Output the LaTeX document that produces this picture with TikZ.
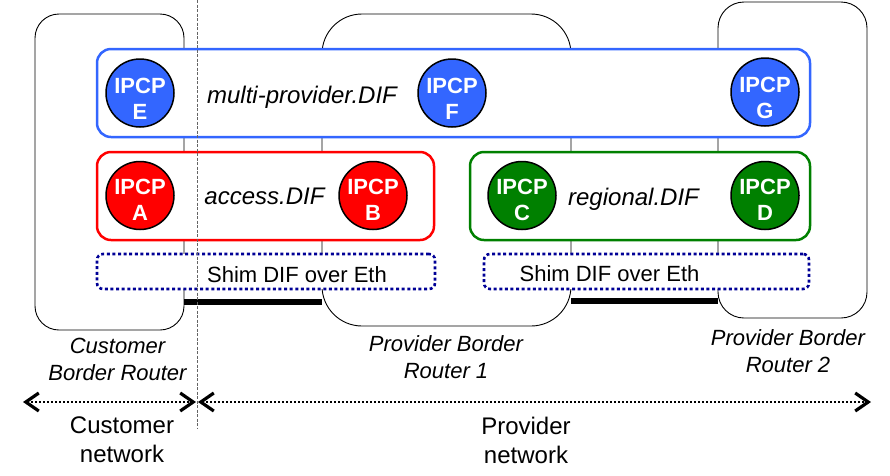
\documentclass[tikz,border=0pt]{standalone}
\usepackage{fontspec}
\setmainfont{Liberation Sans}
\usetikzlibrary{arrows.meta}
\definecolor{difblue}{RGB}{51,102,255}
\definecolor{difred}{RGB}{255,0,0}
\definecolor{difgreen}{RGB}{0,128,0}
\definecolor{shimnavy}{RGB}{0,0,150}
\definecolor{divgray}{RGB}{100,100,100}
\begin{document}
\begin{tikzpicture}[x=1pt,y=-1pt,
  router/.style={draw=black, line width=0.9pt, rectangle, inner sep=0pt},
  difbox/.style={draw, fill=white, line width=2.5pt, rounded corners=14pt, inner sep=0pt, rectangle},
  shimbox/.style={draw=shimnavy, fill=white, line width=2.6pt, dash pattern=on 3pt off 2.6pt, rounded corners=6pt, inner sep=0pt, rectangle},
  ipcp/.style={circle, draw=black, line width=1.5pt, minimum size=68pt, inner sep=0pt},
  ipcptext/.style={text=white, font=\fontsize{22}{26}\selectfont\bfseries, align=center, inner sep=0pt, anchor=base},
  difname/.style={font=\fontsize{24}{27}\selectfont\itshape, anchor=base, inner sep=0pt},
  routername/.style={font=\fontsize{22}{26.5}\selectfont\itshape, align=center, inner sep=0pt, anchor=base},
  netname/.style={font=\fontsize{24}{28.5}\selectfont, align=center, inner sep=0pt, anchor=base},
  shimname/.style={font=\fontsize{22}{25}\selectfont, anchor=base, inner sep=0pt},
  netlink/.style={line width=6pt},
  netarrow/.style={line width=2pt, dash pattern=on 2pt off 2pt,
    {Straight Barb[length=13pt,width=18pt,line width=3.2pt]}-{Straight Barb[length=13pt,width=18pt,line width=3.2pt]}},
  divider/.style={draw=divgray, line width=0.8pt, dash pattern=on 3pt off 1.5pt}
]
\useasboundingbox (0,0) rectangle (890,475);

% routers
\node[router, rounded corners=24pt, minimum width=149pt, minimum height=316pt] (CBR) at (109.5,172) {};
\node[router, rounded corners=40pt, minimum width=249pt, minimum height=312pt] (PBR1) at (446.5,170) {};
\node[router, rounded corners=26pt, minimum width=149pt, minimum height=316pt] (PBR2) at (792.5,160) {};

% links
\draw[netlink] (CBR.east |- 0,302) -- (PBR1.west |- 0,302);
\draw[netlink] (PBR1.east |- 0,301) -- (PBR2.west |- 0,301);

% DIF boxes
\node[difbox, draw=difblue, minimum width=713pt, minimum height=88pt] (MP) at (453.5,93) {};
\node[difbox, draw=difred, minimum width=337pt, minimum height=88pt] (AC) at (265.5,196) {};
\node[difbox, draw=difgreen, minimum width=340pt, minimum height=88pt] (RG) at (640,196) {};
\node[shimbox, minimum width=338pt, minimum height=35pt] (SH1) at (266,271.5) {};
\node[shimbox, minimum width=325pt, minimum height=35pt] (SH2) at (646.5,271.5) {};

% DIF names
\node[difname] (MPt) at (302,103) {multi-provider.DIF};
\node[difname] (ACt) at (264.5,204) {access.DIF};
\node[difname] (RGt) at (633.5,205) {regional.DIF};
\node[shimname] (SH1t) at (297,282) {Shim DIF over Eth};
\node[shimname] (SH2t) at (609.5,281) {Shim DIF over Eth};

% IPCPs
\node[ipcp, fill=difblue] (E) at (140,93) {};
\node[ipcptext] (Et) at (140,119) {IPCP\\E};
\node[ipcp, fill=difblue] (F) at (452,93) {};
\node[ipcptext] (Ft) at (452,119) {IPCP\\F};
\node[ipcp, fill=difblue] (G) at (765,92) {};
\node[ipcptext] (Gt) at (765,118) {IPCP\\G};
\node[ipcp, fill=difred] (A) at (140,195.5) {};
\node[ipcptext] (At) at (140,220) {IPCP\\A};
\node[ipcp, fill=difred] (B) at (373,195.5) {};
\node[ipcptext] (Bt) at (373,220) {IPCP\\B};
\node[ipcp, fill=difgreen] (C) at (522,195.5) {};
\node[ipcptext] (Ct) at (522,220) {IPCP\\C};
\node[ipcp, fill=difgreen] (D) at (765,195.5) {};
\node[ipcptext] (Dt) at (765,220) {IPCP\\D};

% router names
\node[routername] (CBRt) at (117.5,380) {Customer\\Border Router};
\node[routername] (PBR1t) at (446,378) {Provider Border\\Router 1};
\node[routername] (PBR2t) at (788,372) {Provider Border\\Router 2};

% network extents
\coordinate (cnL) at (23,402);
\coordinate (cnR) at (196,402);
\coordinate (pnL) at (198,402);
\coordinate (pnR) at (871,402);
\draw[netarrow] (cnL) -- (cnR);
\draw[netarrow] (pnL) -- (pnR);
\node[netname] (CN) at (122,462) {Customer\\network};
\node[netname] (PN) at (526,463) {Provider\\network};

% divider
\coordinate (dvT) at (197,0);
\coordinate (dvB) at (197,428);
\draw[divider] (dvT) -- (dvB);
\end{tikzpicture}
\end{document}
